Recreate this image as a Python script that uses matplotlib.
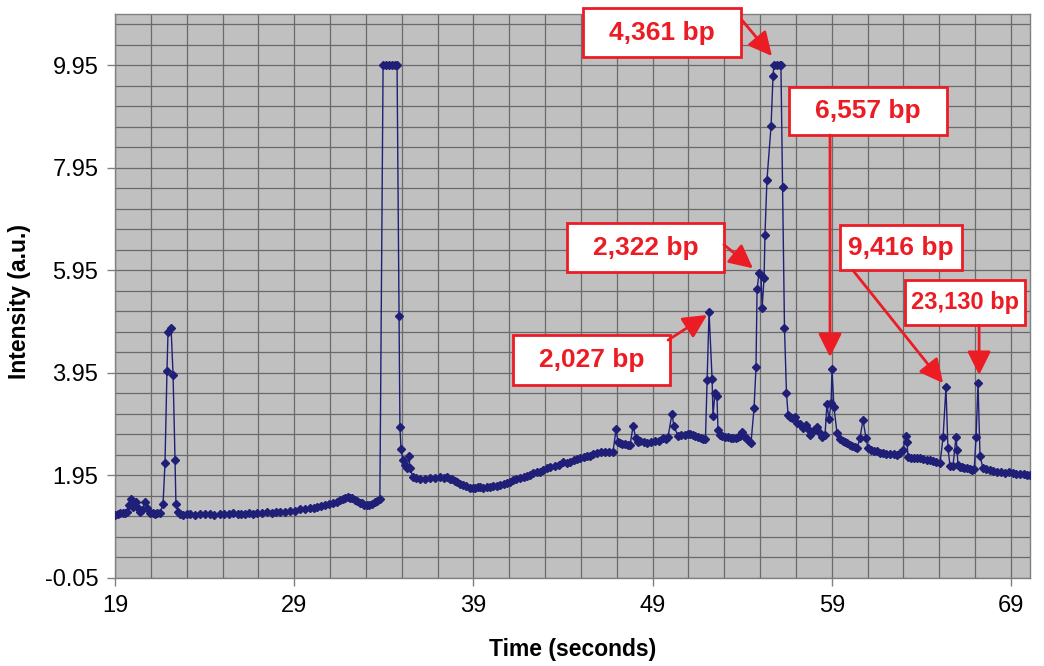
import numpy as np
import matplotlib
matplotlib.use('Agg')
import matplotlib.pyplot as plt
from matplotlib.patches import Rectangle

plt.rcParams['font.family'] = ['Liberation Sans', 'DejaVu Sans']

# trace (seconds, a.u.)
time = [
    19.00, 19.17, 19.30, 19.45, 19.58, 19.67, 19.78, 19.89, 20.00, 20.17, 20.28, 20.40, 20.51, 20.67,
    20.79, 20.95, 21.10, 21.23, 21.37, 21.51,
    21.68, 21.79, 21.90, 21.96, 22.13, 22.24, 22.35, 22.40, 22.52,
    22.65, 22.79, 23.00, 23.19, 23.45, 23.74, 24.00, 24.30, 24.55, 24.86, 25.10, 25.35, 25.58, 25.85,
    26.05, 26.25, 26.50, 26.70, 26.92, 27.20, 27.48, 27.75, 28.00, 28.21, 28.50, 28.77, 29.05, 29.32,
    29.60, 29.88, 30.10, 30.27, 30.50, 30.72, 30.95, 31.17, 31.40, 31.56, 31.72, 31.84, 32.00, 32.12,
    32.23, 32.37, 32.50, 32.65, 32.78, 32.92, 33.06, 33.20, 33.34, 33.50, 33.62, 33.78,
    33.96, 34.12, 34.29, 34.46, 34.63, 34.74, 34.85, 34.90, 34.96, 35.07, 35.18, 35.29, 35.41, 35.46, 35.63,
    35.80, 36.02, 36.30, 36.58, 36.85, 37.14, 37.35, 37.53, 37.70, 37.81, 37.95, 38.08, 38.25, 38.42,
    38.60, 38.81, 38.95, 39.09, 39.25, 39.37, 39.55, 39.75, 39.93, 40.10, 40.30, 40.48, 40.70, 40.88,
    41.05, 41.21, 41.40, 41.60, 41.80, 42.00, 42.16, 42.35, 42.55, 42.72, 42.90, 43.11, 43.30, 43.55,
    43.75, 44.00, 44.20, 44.39, 44.60, 44.80, 44.95, 45.15, 45.35, 45.51, 45.70, 45.90, 46.10, 46.34,
    46.55, 46.79, 46.96, 47.07, 47.18, 47.32, 47.46, 47.60, 47.74, 47.91, 48.07, 48.20, 48.30, 48.50,
    48.69, 48.90, 49.13, 49.35, 49.58, 49.75, 49.86, 50.08, 50.19, 50.42, 50.60, 50.81, 50.95, 51.09,
    51.25, 51.37, 51.55, 51.70, 51.81, 51.95,
    52.04, 52.15, 52.32, 52.37, 52.48, 52.59, 52.65, 52.76, 52.87, 53.05, 53.21, 53.35, 53.49, 53.63,
    53.77, 53.90, 53.99, 54.10, 54.16, 54.27, 54.38, 54.49,
    54.66, 54.77, 54.83, 54.94, 55.05, 55.11, 55.22, 55.27, 55.38, 55.61, 55.72, 55.77, 55.94, 56.11,
    56.16, 56.25, 56.36, 56.47, 56.56, 56.67, 56.78, 56.95, 57.06, 57.20, 57.39, 57.56, 57.67, 57.78,
    57.90, 58.01, 58.17, 58.30, 58.45, 58.62,
    58.73, 58.84, 58.96, 59.01, 59.12, 59.29, 59.46, 59.60, 59.75, 59.85, 60.00, 60.13, 60.27, 60.41,
    60.57, 60.74, 60.91, 61.02, 61.20, 61.36, 61.52, 61.69, 61.85, 62.05, 62.25, 62.45, 62.64, 62.80,
    62.97, 63.14, 63.20, 63.25, 63.42, 63.59, 63.75, 63.92, 64.10, 64.30, 64.48, 64.65, 64.82, 65.04,
    65.21, 65.37, 65.48, 65.60, 65.76, 65.93, 65.99, 66.04, 66.15, 66.27, 66.40, 66.55, 66.70, 66.82, 66.95,
    67.05, 67.16, 67.27, 67.44, 67.60, 67.83, 68.00, 68.22, 68.45, 68.67, 68.90, 69.11, 69.30, 69.50,
    69.70, 69.89, 70.05,
]
intensity = [
    1.18, 1.20, 1.21, 1.22, 1.22, 1.24, 1.37, 1.49, 1.33, 1.43, 1.31, 1.24, 1.28, 1.43,
    1.31, 1.22, 1.21, 1.20, 1.21, 1.22,
    1.39, 2.19, 3.99, 4.75, 4.82, 3.91, 2.25, 1.39, 1.24,
    1.20, 1.18, 1.20, 1.20, 1.18, 1.19, 1.20, 1.20, 1.18, 1.19, 1.20, 1.19, 1.22, 1.20,
    1.19, 1.20, 1.21, 1.20, 1.22, 1.21, 1.24, 1.22, 1.23, 1.24, 1.24, 1.26, 1.26, 1.30,
    1.29, 1.31, 1.32, 1.33, 1.35, 1.37, 1.39, 1.41, 1.44, 1.47, 1.50, 1.51, 1.53, 1.52,
    1.51, 1.48, 1.45, 1.42, 1.41, 1.38, 1.37, 1.38, 1.39, 1.43, 1.45, 1.49,
    9.95, 9.95, 9.95, 9.95, 9.95, 9.95, 5.06, 2.89, 2.46, 2.25, 2.15, 2.10, 2.33, 2.09, 1.92,
    1.90, 1.88, 1.89, 1.90, 1.91, 1.92, 1.91, 1.92, 1.89, 1.88, 1.85, 1.82, 1.79, 1.76,
    1.74, 1.70, 1.71, 1.70, 1.72, 1.72, 1.71, 1.73, 1.72, 1.74, 1.75, 1.76, 1.78, 1.80,
    1.83, 1.86, 1.88, 1.90, 1.92, 1.94, 1.96, 1.99, 2.01, 2.02, 2.06, 2.09, 2.12, 2.13,
    2.16, 2.21, 2.20, 2.21, 2.25, 2.27, 2.29, 2.31, 2.33, 2.33, 2.36, 2.39, 2.40, 2.41,
    2.40, 2.41, 2.85, 2.60, 2.58, 2.57, 2.56, 2.55, 2.54, 2.91, 2.68, 2.60, 2.62, 2.60,
    2.58, 2.61, 2.62, 2.63, 2.68, 2.67, 2.70, 3.15, 2.91, 2.72, 2.73, 2.74, 2.75, 2.76,
    2.73, 2.72, 2.70, 2.68, 2.66, 2.67,
    3.81, 5.14, 3.83, 3.11, 3.56, 3.50, 2.83, 2.74, 2.72, 2.70, 2.70, 2.69, 2.68, 2.69,
    2.70, 2.72, 2.80, 2.72, 2.70, 2.66, 2.62, 2.58,
    3.26, 4.06, 5.58, 5.90, 5.86, 5.21, 5.80, 6.64, 7.71, 8.76, 9.74, 9.95, 9.95, 9.95,
    9.95, 7.57, 4.82, 3.56, 3.13, 3.09, 3.07, 3.09, 2.97, 2.95, 2.87, 2.93, 2.85, 2.74,
    2.80, 2.83, 2.89, 2.80, 2.70, 2.74,
    3.34, 3.05, 3.36, 4.02, 3.28, 2.78, 2.66, 2.62, 2.60, 2.58, 2.55, 2.52, 2.50, 2.48,
    2.68, 3.03, 2.68, 2.48, 2.45, 2.43, 2.42, 2.39, 2.38, 2.37, 2.37, 2.36, 2.35, 2.38,
    2.45, 2.72, 2.60, 2.31, 2.30, 2.29, 2.30, 2.29, 2.27, 2.26, 2.25, 2.24, 2.21, 2.19,
    2.70, 3.67, 2.48, 2.13, 2.13, 2.70, 2.45, 2.15, 2.12, 2.11, 2.10, 2.09, 2.07, 2.06, 2.08,
    2.70, 3.75, 2.33, 2.09, 2.07, 2.06, 2.04, 2.02, 2.01, 2.00, 2.01, 2.00, 1.98, 1.98,
    1.97, 1.96, 1.95,
]

x_ticks = [19, 29, 39, 49, 59, 69]
y_ticks = [-0.05, 1.95, 3.95, 5.95, 7.95, 9.95]

# labels: text, peak it points at, box (x0, y0, x1, y1), arrow start, font size
labels = ['4,361 bp', '6,557 bp', '2,322 bp', '2,027 bp', '9,416 bp', '23,130 bp']
label_tips = [(55.66, 10.13), (58.90, 4.26), (54.60, 5.99), (52.04, 5.08), (65.21, 3.75), (67.22, 3.91)]
label_boxes = [(45.12, 10.11, 53.93, 11.06), (56.61, 8.59, 65.43, 9.52), (44.22, 5.91, 52.98, 6.87),
               (41.21, 3.71, 49.97, 4.69), (59.46, 5.95, 66.27, 6.83), (63.08, 4.88, 69.78, 5.76)]
label_starts = [(53.99, 10.83), (58.90, 8.59), (52.98, 6.45), (49.86, 4.59), (60.18, 5.95), (67.22, 4.88)]
label_sizes = [19, 19, 19, 19, 19, 17]

red = '#ec1c24'
navy = '#1f1f78'

fig = plt.figure(figsize=(10.44, 6.66), dpi=100)
ax = fig.add_axes([115 / 1044, 88 / 666, 915 / 1044, 564 / 666])
ax.set_facecolor('#c0c0c0')

ax.plot(time, intensity, color=navy, lw=1.0, marker='D', markersize=4.3,
        markerfacecolor=navy, markeredgecolor=navy, zorder=3)

ax.set_xlim(19, 70.06)
ax.set_ylim(-0.05, 10.95)
ax.set_xticks(x_ticks)
ax.set_xticklabels([str(t) for t in x_ticks])
ax.set_yticks(y_ticks)
ax.set_yticklabels(['%.2f' % t for t in y_ticks])
ax.set_xticks(np.arange(19, 70.1, 2), minor=True)
ax.set_yticks(np.arange(-0.05, 10.9, 0.4), minor=True)
ax.grid(which='both', color='#6a6a6a', lw=0.9)
ax.set_axisbelow(True)
ax.tick_params(which='minor', length=0)
ax.tick_params(which='major', length=6, width=1, color='#808080', labelsize=17, pad=6)
for s in ax.spines.values():
    s.set_color('#808080')
    s.set_linewidth(1)

ax.set_xlabel('Time (seconds)', fontsize=16.5, fontweight='bold')
ax.xaxis.set_label_coords(0.5, -0.106)
ax.set_ylabel('Intensity (a.u.)', fontsize=16.5, fontweight='bold')
ax.yaxis.set_label_coords(-0.092, 0.49)

for txt, tip, box, start, fs in zip(labels, label_tips, label_boxes, label_starts, label_sizes):
    x0, y0, x1, y1 = box
    ax.add_patch(Rectangle((x0, y0), x1 - x0, y1 - y0, facecolor='white', edgecolor=red,
                           lw=2, clip_on=False, zorder=5))
    ax.text((x0 + x1) / 2, (y0 + y1) / 2, txt, color=red, fontsize=fs, fontweight='bold',
            ha='center', va='center', zorder=6, clip_on=False)
    ax.annotate('', xy=tip, xytext=start, annotation_clip=False, zorder=6,
                arrowprops=dict(arrowstyle='-|>', color=red, lw=2, mutation_scale=36,
                                shrinkA=0, shrinkB=0))

fig.savefig('out.png', dpi=100)
